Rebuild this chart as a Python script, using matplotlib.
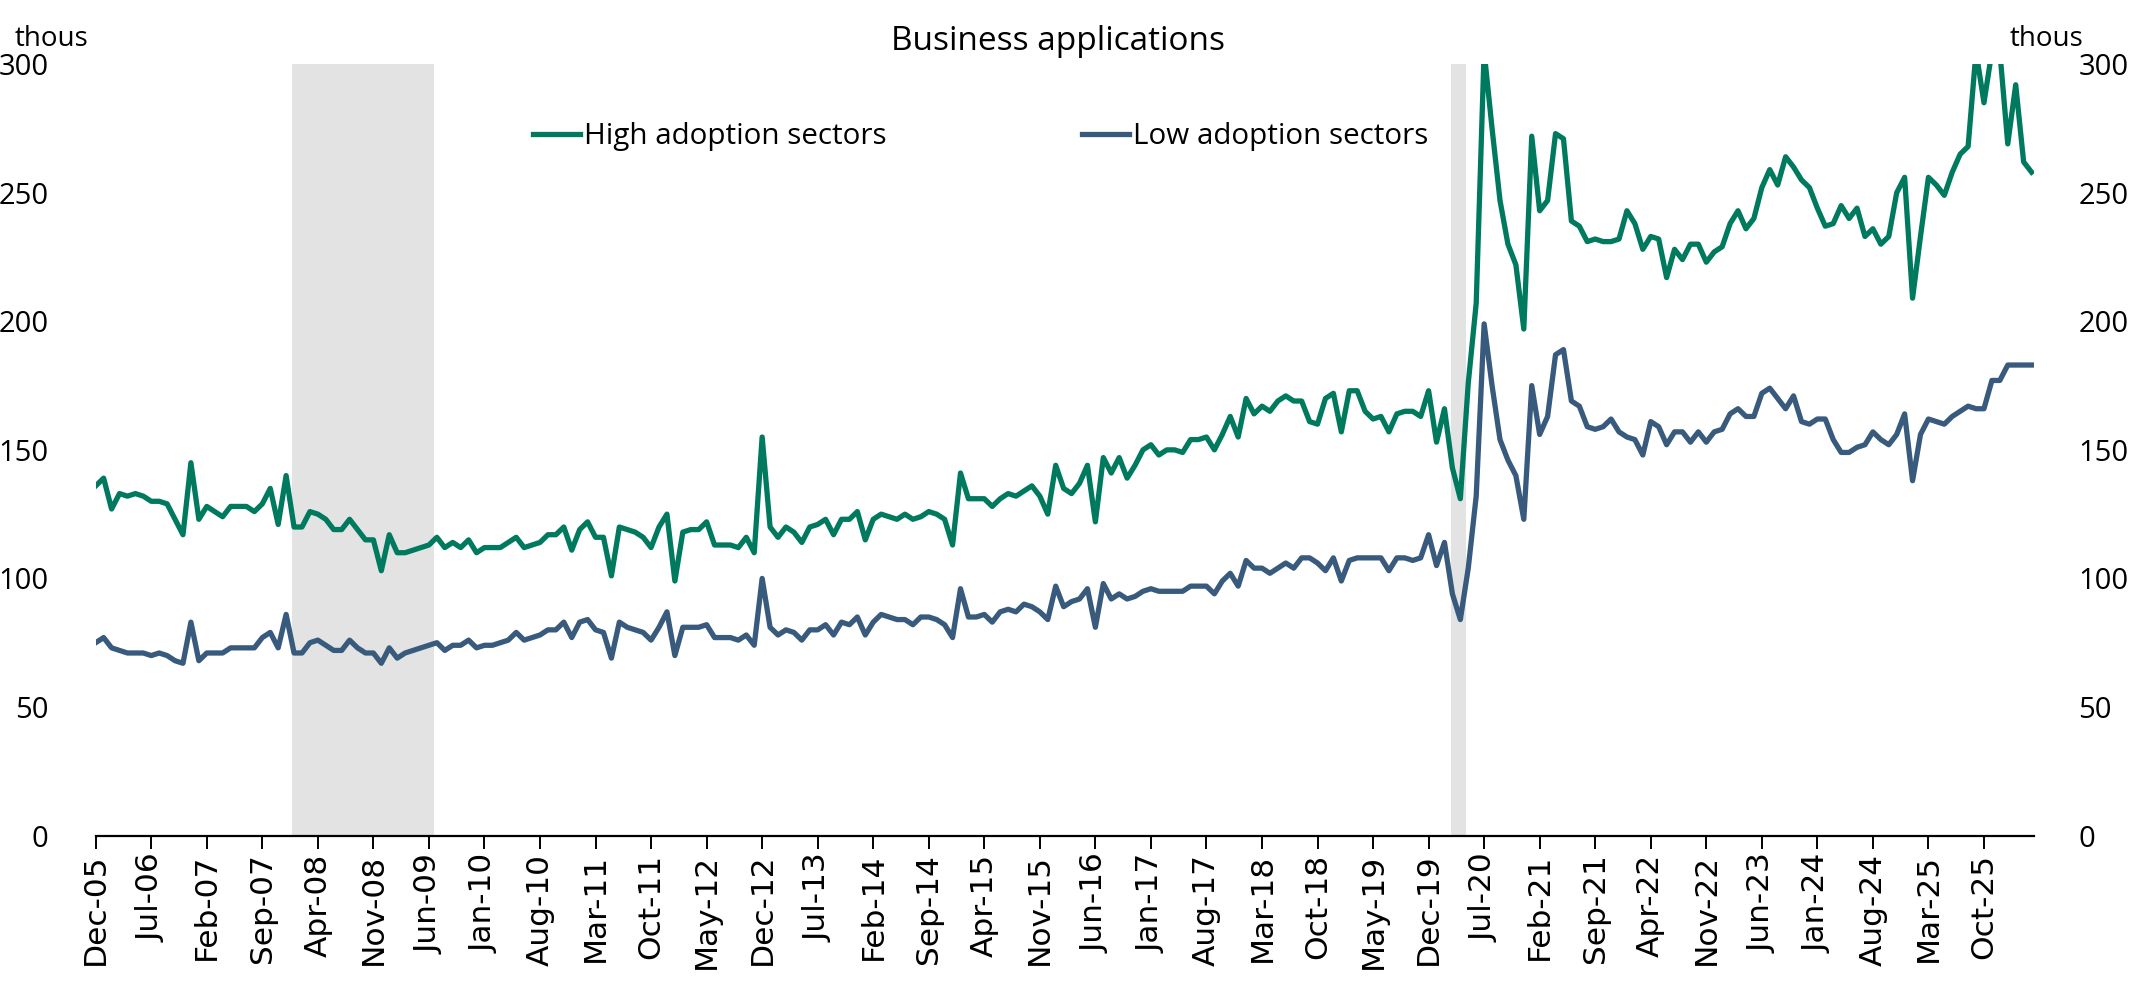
import matplotlib
matplotlib.use("Agg")
import matplotlib.pyplot as plt
import pandas as pd

plt.rcParams['font.family'] = ['Open Sans', 'DejaVu Sans']

# monthly business applications, thousands, Dec-05 onward
high_adoption = [
    136, 139, 127, 133, 132, 133, 132, 130, 130, 129, 123, 117, 145, 123, 128, 126,
    124, 128, 128, 128, 126, 129, 135, 121, 140, 120, 120, 126, 125, 123, 119, 119,
    123, 119, 115, 115, 103, 117, 110, 110, 111, 112, 113, 116, 112, 114, 112, 115,
    110, 112, 112, 112, 114, 116, 112, 113, 114, 117, 117, 120, 111, 119, 122, 116,
    116, 101, 120, 119, 118, 116, 112, 120, 125, 99, 118, 119, 119, 122, 113, 113,
    113, 112, 116, 110, 155, 120, 116, 120, 118, 114, 120, 121, 123, 117, 123, 123,
    126, 115, 123, 125, 124, 123, 125, 123, 124, 126, 125, 123, 113, 141, 131, 131,
    131, 128, 131, 133, 132, 134, 136, 132, 125, 144, 135, 133, 137, 144, 122, 147,
    141, 147, 139, 144, 150, 152, 148, 150, 150, 149, 154, 154, 155, 150, 156, 163,
    155, 170, 164, 167, 165, 169, 171, 169, 169, 161, 160, 170, 172, 157, 173, 173,
    165, 162, 163, 157, 164, 165, 165, 163, 173, 153, 166, 143, 131, 176, 207, 305,
    275, 247, 230, 222, 197, 272, 243, 247, 273, 271, 239, 237, 231, 232, 231, 231,
    232, 243, 238, 228, 233, 232, 217, 228, 224, 230, 230, 223, 227, 229, 238, 243,
    236, 240, 252, 259, 253, 264, 260, 255, 252, 244, 237, 238, 245, 240, 244, 233,
    236, 230, 233, 250, 256, 209, 233, 256, 253, 249, 258, 265, 268, 305, 285, 305,
    305, 269, 292, 262, 258,
]
low_adoption = [
    75, 77, 73, 72, 71, 71, 71, 70, 71, 70, 68, 67, 83, 68, 71, 71,
    71, 73, 73, 73, 73, 77, 79, 73, 86, 71, 71, 75, 76, 74, 72, 72,
    76, 73, 71, 71, 67, 73, 69, 71, 72, 73, 74, 75, 72, 74, 74, 76,
    73, 74, 74, 75, 76, 79, 76, 77, 78, 80, 80, 83, 77, 83, 84, 80,
    79, 69, 83, 81, 80, 79, 76, 81, 87, 70, 81, 81, 81, 82, 77, 77,
    77, 76, 78, 74, 100, 81, 78, 80, 79, 76, 80, 80, 82, 78, 83, 82,
    85, 78, 83, 86, 85, 84, 84, 82, 85, 85, 84, 82, 77, 96, 85, 85,
    86, 83, 87, 88, 87, 90, 89, 87, 84, 97, 89, 91, 92, 96, 81, 98,
    92, 94, 92, 93, 95, 96, 95, 95, 95, 95, 97, 97, 97, 94, 99, 102,
    97, 107, 104, 104, 102, 104, 106, 104, 108, 108, 106, 103, 108, 99, 107, 108,
    108, 108, 108, 103, 108, 108, 107, 108, 117, 105, 114, 94, 84, 104, 132, 199,
    175, 154, 146, 140, 123, 175, 156, 163, 187, 189, 169, 167, 159, 158, 159, 162,
    157, 155, 154, 148, 161, 159, 152, 157, 157, 153, 157, 153, 157, 158, 164, 166,
    163, 163, 172, 174, 170, 166, 171, 161, 160, 162, 162, 154, 149, 149, 151, 152,
    157, 154, 152, 156, 164, 138, 156, 162, 161, 160, 163, 165, 167, 166, 166, 177,
    177, 183, 183, 183, 183,
]
recessions = [("2007-12", "2009-06"), ("2020-02", "2020-04")]
start_month = "2005-12"
tick_every = 7

months = pd.period_range(start_month, periods=len(high_adoption), freq="M")
x = list(range(len(months)))

fig = plt.figure(figsize=(21.41, 9.83), dpi=100)
ax = fig.add_axes([0.0447, 0.150, 0.9053, 0.7847])

# shaded recession periods
for start, end in recessions:
    s = (pd.Period(start, "M") - months[0]).n + 0.8
    e = (pd.Period(end, "M") - months[0]).n + 0.7
    ax.axvspan(s, e, color="#e3e3e3", lw=0, zorder=0)

ax.plot(x, high_adoption, color="#007a5e", lw=3.8, label="High adoption sectors", zorder=3)
ax.plot(x, low_adoption, color="#385a7c", lw=3.8, label="Low adoption sectors", zorder=3)

ax.set_xlim(0, 244.3)
ax.set_ylim(0, 300)
ax.set_yticks(range(0, 301, 50))

for side in ["top", "left", "right"]:
    ax.spines[side].set_visible(False)
ax.spines["bottom"].set_linewidth(1.6)

ticks = x[::tick_every]
ax.set_xticks(ticks)
ax.set_xticklabels([months[i].strftime("%b-%y") for i in ticks], rotation=90,
                   fontfamily="DejaVu Sans", fontsize=22.5)
ax.tick_params(axis="x", length=9, width=1.4, pad=4)
ax.tick_params(axis="y", length=0, pad=34, labelsize=21)

# same scale on the right side
ax2 = ax.twinx()
ax2.set_ylim(ax.get_ylim())
ax2.set_yticks(range(0, 301, 50))
for side in ["top", "left", "right", "bottom"]:
    ax2.spines[side].set_visible(False)
ax2.tick_params(axis="y", length=0, pad=32, labelsize=21)

fig.text(0.494, 0.975, "Business applications", ha="center", va="top", fontsize=24)
fig.text(0.024, 0.975, "thous", ha="center", va="top", fontsize=20)
fig.text(0.956, 0.975, "thous", ha="center", va="top", fontsize=20)

ax.legend(loc="center left", bbox_to_anchor=(0.249, 0.861), bbox_transform=fig.transFigure,
          ncol=2, frameon=False, fontsize=21.3, handlelength=1.6, handletextpad=0.12,
          columnspacing=6.6, borderpad=0, borderaxespad=0)

fig.savefig("out.png", dpi=100)
